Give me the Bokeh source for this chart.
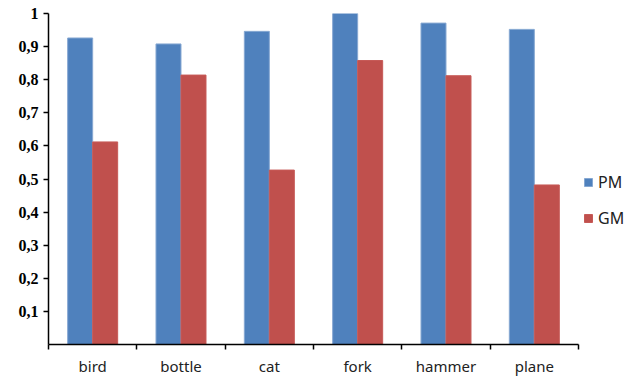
from bokeh.plotting import figure
from bokeh.models import FixedTicker, Legend, LegendItem, ColumnDataSource, Range1d
from bokeh.embed import file_html
from bokeh.resources import INLINE
from bokeh.transform import dodge

# Recognition rate per object class
categories = ["bird", "bottle", "cat", "fork", "hammer", "plane"]
pm_values = [0.926, 0.908, 0.946, 1.0, 0.971, 0.952]
gm_values = [0.612, 0.814, 0.527, 0.858, 0.812, 0.482]
y_ticks = [0.1, 0.2, 0.3, 0.4, 0.5, 0.6, 0.7, 0.8, 0.9, 1.0]
y_tick_labels = ["0,1", "0,2", "0,3", "0,4", "0,5", "0,6", "0,7", "0,8", "0,9", "1"]

n = len(categories)
positions = [i + 0.5 for i in range(n)]
source = ColumnDataSource(dict(x=positions, pm=pm_values, gm=gm_values))

# frame runs to the right edge so the legend can sit beside the bars
p = figure(width=643, height=382, output_backend="svg", toolbar_location=None,
           x_range=Range1d(0, 6.736), y_range=Range1d(0, 1),
           min_border_left=48, min_border_right=0, min_border_top=13, min_border_bottom=38)
p.outline_line_color = None
p.xgrid.visible = False
p.ygrid.visible = False
p.background_fill_color = "white"
p.border_fill_color = "white"

bar_w = 0.283
pm = p.vbar(x=dodge("x", -bar_w / 2, range=p.x_range), top="pm", width=bar_w, source=source,
            fill_color="#4F81BD", line_color="#86A8D2", line_width=1)
gm = p.vbar(x=dodge("x", bar_w / 2, range=p.x_range), top="gm", width=bar_w, source=source,
            fill_color="#C0504D", line_color="#C65A57", line_width=1)

# x axis: category names at centres, tick marks at group boundaries
p.xaxis.bounds = (-0.06, n)
p.xaxis.ticker = FixedTicker(ticks=positions, minor_ticks=list(range(n + 1)))
p.xaxis.major_label_overrides = {pos: name for pos, name in zip(positions, categories)}
p.xaxis.major_tick_out = 0
p.xaxis.major_tick_in = 0
p.xaxis.minor_tick_out = 5
p.xaxis.minor_tick_in = 0
p.xaxis.minor_tick_line_color = "black"
p.xaxis.axis_line_color = "black"
p.xaxis.axis_line_width = 1.5
p.xaxis.minor_tick_line_width = 1.5
p.xaxis.major_label_text_font = "Noto Sans"
p.xaxis.major_label_text_font_size = "15px"
p.xaxis.major_label_text_color = "#222222"
p.xaxis.major_label_standoff = 6

p.yaxis.ticker = FixedTicker(ticks=y_ticks)
p.yaxis.major_label_overrides = {t: s for t, s in zip(y_ticks, y_tick_labels)}
p.yaxis.major_tick_out = 5
p.yaxis.major_tick_in = 0
p.yaxis.minor_tick_line_color = None
p.yaxis.axis_line_color = "black"
p.yaxis.axis_line_width = 1.5
p.yaxis.major_tick_line_width = 1.5
p.yaxis.major_label_text_font = "Liberation Serif"
p.yaxis.major_label_text_font_style = "bold"
p.yaxis.major_label_text_font_size = "16px"
p.yaxis.major_label_text_color = "black"
p.yaxis.major_label_standoff = 5

legend = Legend(items=[LegendItem(label="PM", renderers=[pm]),
                       LegendItem(label="GM", renderers=[gm])],
                location=(535, 115), border_line_color=None, background_fill_alpha=0,
                label_text_font="Noto Sans", label_text_font_size="16px",
                label_text_color="#222222", glyph_width=10, glyph_height=10,
                label_height=20, spacing=14, padding=0, margin=0, label_standoff=5)
p.add_layout(legend, "center")

open("out.html", "w").write(file_html(p, INLINE))
